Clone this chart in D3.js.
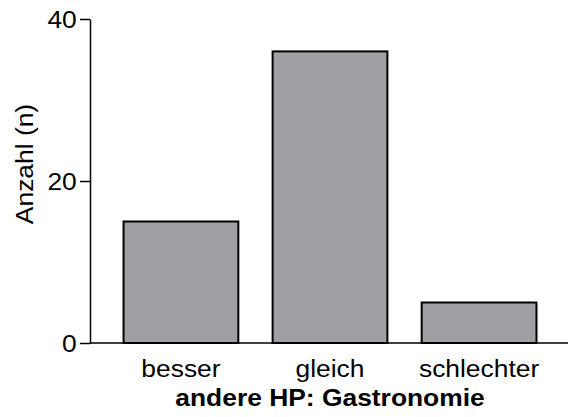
<!DOCTYPE html>
<meta charset="utf-8">
<style>
  html, body { margin: 0; padding: 0; background: #fff; }
  svg { display: block; }
  text { font-family: "Liberation Sans", Arial, sans-serif; fill: #000; }
  .axis path, .axis line { stroke: #000; stroke-width: 1.5px; }
  .bars rect { fill: #a19fa4; stroke: #000; stroke-width: 2px; }
</style>
<div id="chart"></div>
<script src="https://cdnjs.cloudflare.com/ajax/libs/d3/7.8.5/d3.min.js"></script>
<script>
var categories = ["besser", "gleich", "schlechter"];
var counts = [15, 36, 5];
var yTicks = [0, 20, 40];
var xTitle = "andere HP: Gastronomie";
var yTitle = "Anzahl (n)";

var width = 568, height = 417;
var fs = "24px";
var stretch = 1.1;   // the reference glyphs run a bit wider than Liberation Sans

var svg = d3.select("#chart").append("svg")
  .attr("width", width)
  .attr("height", height);

var x = d3.scaleBand()
  .domain(categories)
  .range([90, 570])
  .paddingInner(0.23)
  .paddingOuter(0.225);

var y = d3.scaleLinear()
  .domain([0, 40])
  .range([343, 19]);

// bars
svg.append("g")
  .attr("class", "bars")
  .selectAll("rect")
  .data(counts)
  .enter()
    .append("rect")
    .attr("x", function(d, i) { return x(categories[i]); })
    .attr("y", function(d) { return y(d); })
    .attr("width", x.bandwidth())
    .attr("height", function(d) { return y(0) - y(d); });

// y axis
var yAxis = svg.append("g")
  .attr("class", "axis")
  .attr("transform", "translate(90,0)")
  .call(d3.axisLeft(y).tickValues(yTicks).tickSize(10).tickSizeOuter(0).tickPadding(2));
yAxis.selectAll("text")
  .style("font-size", fs)
  .attr("dy", "0.36em")
  .attr("transform", "scale(" + stretch + ",1)");

// x axis baseline, runs to the right edge
svg.append("line")
  .attr("x1", 90).attr("x2", width)
  .attr("y1", y(0)).attr("y2", y(0))
  .attr("stroke", "#000")
  .attr("stroke-width", 1.5);

// category labels
svg.append("g")
  .selectAll("text")
  .data(categories)
  .enter()
    .append("text")
    .attr("transform", function(d) {
      return "translate(" + (x(d) + x.bandwidth() / 2) + ",377) scale(" + stretch + ",1)";
    })
    .attr("text-anchor", "middle")
    .style("font-size", fs)
    .text(function(d) { return d; });

svg.append("text")
  .attr("transform", "translate(330,406) scale(" + stretch + ",1)")
  .attr("text-anchor", "middle")
  .style("font-size", fs)
  .style("font-weight", "bold")
  .text(xTitle);

svg.append("text")
  .attr("transform", "translate(33,164) rotate(-90) scale(" + stretch + ",1)")
  .attr("text-anchor", "middle")
  .style("font-size", fs)
  .text(yTitle);
</script>
